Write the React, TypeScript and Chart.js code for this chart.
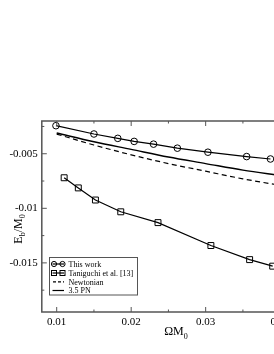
import React, { useEffect, useRef } from "react";
import { Chart, registerables } from "chart.js";

Chart.register(...registerables);

// ---- data ----
const thisWorkOmega = [0.0099, 0.015, 0.0182, 0.0204, 0.023, 0.0262, 0.0303, 0.0355, 0.0387];
const thisWorkEb = [-0.00243, -0.00319, -0.00359, -0.00387, -0.00412, -0.00449, -0.00486, -0.00526, -0.00548];

const taniguchiOmega = [0.011, 0.0129, 0.0152, 0.0186, 0.0236, 0.0307, 0.0359, 0.039];
const taniguchiEb = [-0.0072, -0.00813, -0.00924, -0.01032, -0.01131, -0.01341, -0.0147, -0.0153];

const pnOmega = [0.01, 0.015, 0.02, 0.025, 0.03, 0.035, 0.04, 0.043];
const newtonianEb = [-0.0032, -0.0042, -0.0051, -0.0059, -0.0066, -0.0073, -0.0079, -0.0083];
const pn35Eb = [-0.0031, -0.0039, -0.0046, -0.0053, -0.0059, -0.0065, -0.007, -0.0073];

const seriesLabels = ["This work", "Taniguchi et al. [13]", "Newtonian", "3.5 PN"];

// tick values (major ones get labels)
const xTickValues = [0.01, 0.015, 0.02, 0.025, 0.03, 0.035, 0.04];
const xTickLabels = ["0.01", "", "0.02", "", "0.03", "", "0.04"];
const yTickValues = [-0.0175, -0.015, -0.0125, -0.01, -0.0075, -0.005, -0.0025];
const yTickLabels = ["", "-0.015", "", "-0.01", "", "-0.005", ""];

const xMin = 0.008;
const xMax = 0.043;
const yMin = -0.0195;
const yMax = -0.002;

const FONT = '"Liberation Serif", "Times New Roman", serif';

const pts = (xs: number[], ys: number[]) => xs.map((x, i) => ({ x, y: ys[i] }));

const decorPlugin = {
  id: "decor",
  afterDraw(chart: any) {
    const { ctx, chartArea: a, scales } = chart;
    const xs = scales.x;
    const ys = scales.y;
    ctx.save();
    // frame
    ctx.strokeStyle = "#555";
    ctx.lineWidth = 1.5;
    ctx.strokeRect(a.left, a.top, a.right - a.left, a.bottom - a.top);
    // inward ticks
    ctx.lineWidth = 1;
    const seg = (x1: number, y1: number, x2: number, y2: number) => {
      ctx.beginPath();
      ctx.moveTo(x1, y1);
      ctx.lineTo(x2, y2);
      ctx.stroke();
    };
    xTickValues.forEach((v, i) => {
      const px = xs.getPixelForValue(v);
      const len = xTickLabels[i] ? 5 : 2.5;
      seg(px, a.bottom, px, a.bottom - len);
      seg(px, a.top, px, a.top + len);
    });
    yTickValues.forEach((v, i) => {
      const py = ys.getPixelForValue(v);
      const len = yTickLabels[i] ? 5 : 2.5;
      seg(a.left, py, a.left + len, py);
      seg(a.right, py, a.right - len, py);
    });

    // axis titles with subscripts
    ctx.fillStyle = "#000";
    ctx.textBaseline = "alphabetic";
    ctx.textAlign = "left";
    const big = `12px ${FONT}`;
    const small = `8px ${FONT}`;
    // x title: ΩM0
    ctx.font = big;
    const wOM = ctx.measureText("\u03A9M").width;
    ctx.font = small;
    const w0 = ctx.measureText("0").width;
    const xtStart = 176 - (wOM + w0) / 2;
    ctx.font = big;
    ctx.fillText("\u03A9M", xtStart, 335);
    ctx.font = small;
    ctx.fillText("0", xtStart + wOM, 338.5);

    // y title: Eb/M0 (rotated)
    ctx.save();
    ctx.translate(21.5, 229);
    ctx.rotate(-Math.PI / 2);
    ctx.font = big;
    const wE = ctx.measureText("E").width;
    const wSl = ctx.measureText("/M").width;
    ctx.font = small;
    const wb = ctx.measureText("b").width;
    const total = wE + wb + wSl + w0;
    let cx = -total / 2;
    ctx.font = big;
    ctx.fillText("E", cx, 0);
    cx += wE;
    ctx.font = small;
    ctx.fillText("b", cx, 3);
    cx += wb;
    ctx.font = big;
    ctx.fillText("/M", cx, 0);
    cx += wSl;
    ctx.font = small;
    ctx.fillText("0", cx, 3);
    ctx.restore();

    // legend
    const lx = 49.5;
    const ly = 257.5;
    const lw = 88;
    const lh = 37.5;
    ctx.fillStyle = "#fff";
    ctx.fillRect(lx, ly, lw, lh);
    ctx.strokeStyle = "#555";
    ctx.lineWidth = 1;
    ctx.strokeRect(lx, ly, lw, lh);
    const rows = [264, 273, 281.8, 290.5];
    ctx.font = `8px ${FONT}`;
    chart.data.datasets.forEach((ds: any, i: number) => {
      const ry = rows[i];
      const x1 = 52.5;
      const x2 = 64;
      const dashed = ds.borderDash && ds.borderDash.length;
      ctx.strokeStyle = "#000";
      ctx.lineWidth = 1.2;
      ctx.setLineDash(dashed ? [3, 2] : []);
      seg(x1 + (dashed ? 0.5 : 0), ry, x2, ry);
      ctx.setLineDash([]);
      ctx.lineWidth = 1;
      if (ds.pointStyle === "circle" && ds.pointRadius > 0) {
        for (const px of [x1 + 1.5, x2 - 1.5]) {
          ctx.beginPath();
          ctx.arc(px, ry, 2.6, 0, Math.PI * 2);
          ctx.stroke();
        }
      } else if (ds.pointStyle === "rect" && ds.pointRadius > 0) {
        for (const px of [x1 + 1.5, x2 - 1.5]) {
          ctx.strokeRect(px - 2.5, ry - 2.5, 5, 5);
        }
      }
      ctx.fillStyle = "#000";
      ctx.fillText(ds.label, 68.5, ry + 2.8);
    });
    ctx.restore();
  },
};

export default function App() {
  const ref = useRef<HTMLCanvasElement | null>(null);
  useEffect(() => {
    if (!ref.current) return;
    const chart = new Chart(ref.current, {
      type: "scatter",
      data: {
        datasets: [
          {
            label: seriesLabels[0],
            data: pts(thisWorkOmega, thisWorkEb),
            showLine: true,
            borderColor: "#000",
            borderWidth: 1.2,
            pointStyle: "circle",
            pointRadius: 3.3,
            pointBorderWidth: 1,
            pointBorderColor: "#000",
            pointBackgroundColor: "rgba(0,0,0,0)",
            borderDash: [],
          },
          {
            label: seriesLabels[1],
            data: pts(taniguchiOmega, taniguchiEb),
            showLine: true,
            borderColor: "#000",
            borderWidth: 1.2,
            pointStyle: "rect",
            pointRadius: 4.2,
            pointBorderWidth: 1,
            pointBorderColor: "#000",
            pointBackgroundColor: "rgba(0,0,0,0)",
            borderDash: [],
          },
          {
            label: seriesLabels[2],
            data: pts(pnOmega, newtonianEb),
            showLine: true,
            borderColor: "#000",
            borderWidth: 1.2,
            borderDash: [5, 3.5],
            pointRadius: 0,
            pointStyle: "line",
            cubicInterpolationMode: "monotone",
          },
          {
            label: seriesLabels[3],
            data: pts(pnOmega, pn35Eb),
            showLine: true,
            borderColor: "#000",
            borderWidth: 1.4,
            borderDash: [],
            pointRadius: 0,
            pointStyle: "line",
            cubicInterpolationMode: "monotone",
          },
        ],
      },
      options: {
        responsive: false,
        animation: false,
        layout: { padding: { top: 121, left: 0, right: 7.5, bottom: 0 } },
        plugins: {
          legend: { display: false },
          tooltip: { enabled: false },
        },
        scales: {
          x: {
            type: "linear",
            min: xMin,
            max: xMax,
            afterBuildTicks: (s: any) => {
              s.ticks = xTickValues.map((value) => ({ value }));
            },
            afterFit: (s: any) => {
              s.height = 42;
            },
            grid: { display: false, drawTicks: false },
            border: { display: false },
            ticks: {
              autoSkip: false,
              maxRotation: 0,
              padding: 4,
              color: "#000",
              font: { family: FONT, size: 11 },
              callback: (_v: any, i: number) => xTickLabels[i],
            },
          },
          y: {
            type: "linear",
            min: yMin,
            max: yMax,
            afterBuildTicks: (s: any) => {
              s.ticks = yTickValues.map((value) => ({ value }));
            },
            afterFit: (s: any) => {
              s.width = 41.8;
            },
            grid: { display: false, drawTicks: false },
            border: { display: false },
            ticks: {
              autoSkip: false,
              padding: 4,
              color: "#000",
              font: { family: FONT, size: 11 },
              callback: (_v: any, i: number) => yTickLabels[i],
            },
          },
        },
      },
      plugins: [decorPlugin],
    });
    return () => chart.destroy();
  }, []);

  return (
    <div
      style={{
        position: "fixed",
        left: 0,
        top: 0,
        width: 274,
        height: 354,
        overflow: "hidden",
        background: "#fff",
      }}
    >
      <canvas ref={ref} width={310} height={354} style={{ display: "block" }} />
    </div>
  );
}
